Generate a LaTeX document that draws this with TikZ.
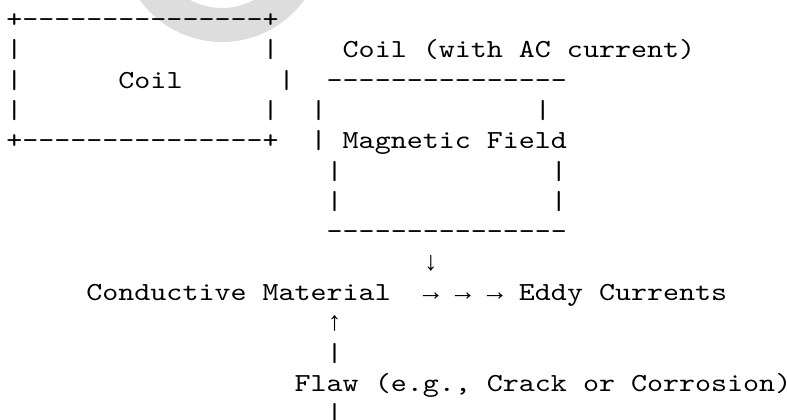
\documentclass[tikz,border=0pt]{standalone}
\usepackage{fontspec}
\setmonofont{lmmono10-regular.otf}[FakeStretch=1.1736]
\newfontfamily\arrowfont{Liberation Mono}
\definecolor{ringgray}{RGB}{221,221,221}
\frenchspacing
\begin{document}
\begin{tikzpicture}[x=1pt,y=-1pt,
  txt/.style={anchor=base west,inner sep=0pt,outer sep=0pt,
    font=\ttfamily\fontsize{26}{30.3}\selectfont},
  arr/.style={anchor=base west,inner sep=0pt,outer sep=0pt,
    font=\arrowfont\fontsize{26.7}{30.3}\selectfont}]
\useasboundingbox (0,0) rectangle (787,420);
\clip (0,0) rectangle (787,420);
\fill[white] (0,0) rectangle (787,420);
% watermark ring
\draw[ringgray,line width=34pt] (222,-59.5) circle (84.5);
% line 1
\node[txt] (boxtop) at ({6.3+16.02*0},27.7) {+---------------+};
% line 2
\node[txt] (l2a) at ({6.3+16.02*0},58.0) {|};
\node[txt] (l2b) at ({6.3+16.02*16},58.0) {|};
\node[txt] (coilac) at ({6.3+16.02*21},58.0) {Coil (with AC current)};
% line 3
\node[txt] (l3a) at ({6.3+16.02*0},88.3) {|};
\node[txt] (coil) at ({6.3+16.02*7},88.3) {Coil};
\node[txt] (l3b) at ({6.3+16.02*17},88.3) {|};
\node[txt] (fieldtop) at ({6.3+16.02*20},88.3) {---------------};
% line 4
\node[txt] (l4a) at ({6.3+16.02*0},118.6) {|};
\node[txt] (l4b) at ({6.3+16.02*16},118.6) {|};
\node[txt] (l4c) at ({6.3+16.02*19},118.6) {|};
\node[txt] (l4d) at ({6.3+16.02*33},118.6) {|};
% line 5
\node[txt] (boxbot) at ({6.3+16.02*0},148.9) {+---------------+};
\node[txt] (l5c) at ({6.3+16.02*19},148.9) {|};
\node[txt] (field) at ({6.3+16.02*21},148.9) {Magnetic Field};
% line 6
\node[txt] (l6a) at ({6.3+16.02*20},179.2) {|};
\node[txt] (l6b) at ({6.3+16.02*34},179.2) {|};
% line 7
\node[txt] (l7a) at ({6.3+16.02*20},209.5) {|};
\node[txt] (l7b) at ({6.3+16.02*34},209.5) {|};
% line 8
\node[txt] (fieldbot) at ({6.3+16.02*20},239.8) {---------------};
% line 9
\node[arr] (down) at ({6.3+16.02*26},270.1) {↓};
% line 10
\node[txt] (material) at ({6.3+16.02*5},300.4) {Conductive Material};
\node[arr] (arrows) at ({6.3+16.02*26},300.4) {→ → →};
\node[txt] (eddy) at ({6.3+16.02*32},300.4) {Eddy Currents};
% line 11
\node[arr] (up) at ({6.3+16.02*20},330.7) {↑};
% line 12
\node[txt] (l12) at ({6.3+16.02*20},361.0) {|};
% line 13
\node[txt] (flaw) at ({6.3+16.02*18},391.3) {Flaw (e.g., Crack or Corrosion)};
% line 14
\node[txt] (l14) at ({6.3+16.02*20},421.6) {|};
\end{tikzpicture}
\end{document}
